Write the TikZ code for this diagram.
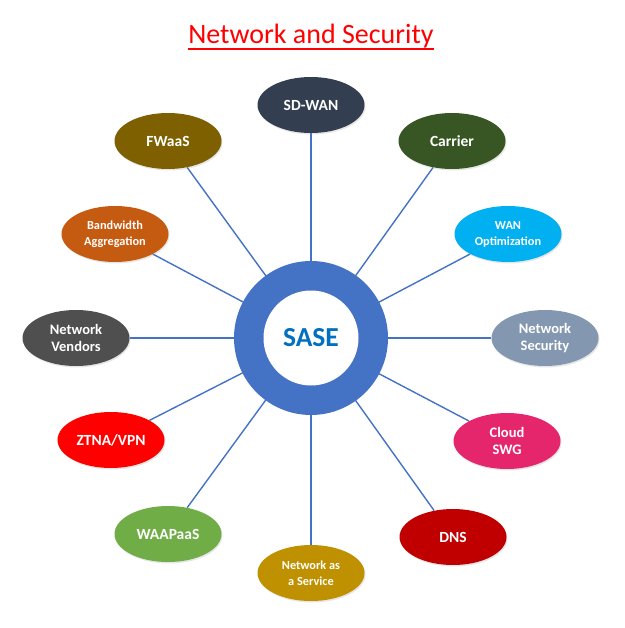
\documentclass[tikz,border=0pt]{standalone}
\usepackage{fontspec}
\setmainfont{Carlito}
\usetikzlibrary{backgrounds,shadows,shapes.geometric}
\definecolor{ringblue}{HTML}{4472C4}
\definecolor{sasetext}{HTML}{0070C0}
\definecolor{cSDWAN}{HTML}{333F50}
\definecolor{cCarrier}{HTML}{375623}
\definecolor{cFWaaS}{HTML}{7F6000}
\definecolor{cWANOpt}{HTML}{00B0F0}
\definecolor{cBand}{HTML}{C55A11}
\definecolor{cVendors}{HTML}{4F4F4F}
\definecolor{cNetSec}{HTML}{8497B0}
\definecolor{cZTNA}{HTML}{FF0000}
\definecolor{cSWG}{HTML}{E6266C}
\definecolor{cWAAP}{HTML}{70AD47}
\definecolor{cDNS}{HTML}{C00000}
\definecolor{cNaaS}{HTML}{BF9000}
\tikzset{
  leaf/.style={ellipse, minimum width=107pt, minimum height=56pt, inner sep=0pt,
    text=white, font=\bfseries\fontsize{15.5}{17}\selectfont, align=center,
    drop shadow={opacity=0.2, shadow xshift=1pt, shadow yshift=-1.5pt}},
  leafmid/.style={leaf, font=\bfseries\fontsize{14.5}{17.5}\selectfont},
  leafsmall/.style={leaf, font=\bfseries\fontsize{12.3}{16}\selectfont},
  spoke/.style={draw=ringblue, line width=1.4pt},
}
\begin{document}
\begin{tikzpicture}[x=1pt,y=-1pt]
\useasboundingbox (0,0) rectangle (624,628);
% title
\node[text=red, font=\fontsize{28}{32}\selectfont, inner sep=0pt] (title) at (311,36) {Network and Security};
\draw[red, line width=1.6pt] (title.south west |- 0,49) -- (title.south east |- 0,49);
% ring
\coordinate (c) at (311,338);
\fill[ringblue] (c) circle (77);
\fill[white] (c) circle (47.5);
\node[text=sasetext, font=\bfseries\fontsize{27.5}{30}\selectfont] (sase) at (c) {SASE};
% leaves
\node[leaf, fill=cSDWAN] (sdwan) at (311,105) {SD-WAN};
\node[leaf, fill=cCarrier] (carrier) at (452,141) {Carrier};
\node[leaf, fill=cFWaaS] (fwaas) at (168,141) {FWaaS};
\node[leafsmall, fill=cWANOpt] (wanopt) at (508,234) {WAN\\Optimization};
\node[leafsmall, fill=cBand] (band) at (115,234) {Bandwidth\\Aggregation};
\node[leafmid, fill=cVendors] (vendors) at (76,338) {Network\\Vendors};
\node[leafmid, fill=cNetSec] (netsec) at (545,338) {Network\\Security};
\node[leaf, fill=cZTNA] (ztna) at (111,440) {ZTNA/VPN};
\node[leafmid, fill=cSWG] (swg) at (507,441) {Cloud\\SWG};
\node[leaf, fill=cWAAP] (waap) at (168,534) {WAAPaaS};
\node[leaf, fill=cDNS] (dns) at (453,537) {DNS};
\node[leafsmall, fill=cNaaS] (naas) at (311,573) {Network as\\a Service};
% spokes
\begin{pgfonlayer}{background}
\foreach \n in {sdwan,carrier,fwaas,wanopt,band,vendors,netsec,ztna,swg,waap,dns,naas}
  \draw[spoke] (\n) -- (c);
\end{pgfonlayer}
\end{tikzpicture}
\end{document}
